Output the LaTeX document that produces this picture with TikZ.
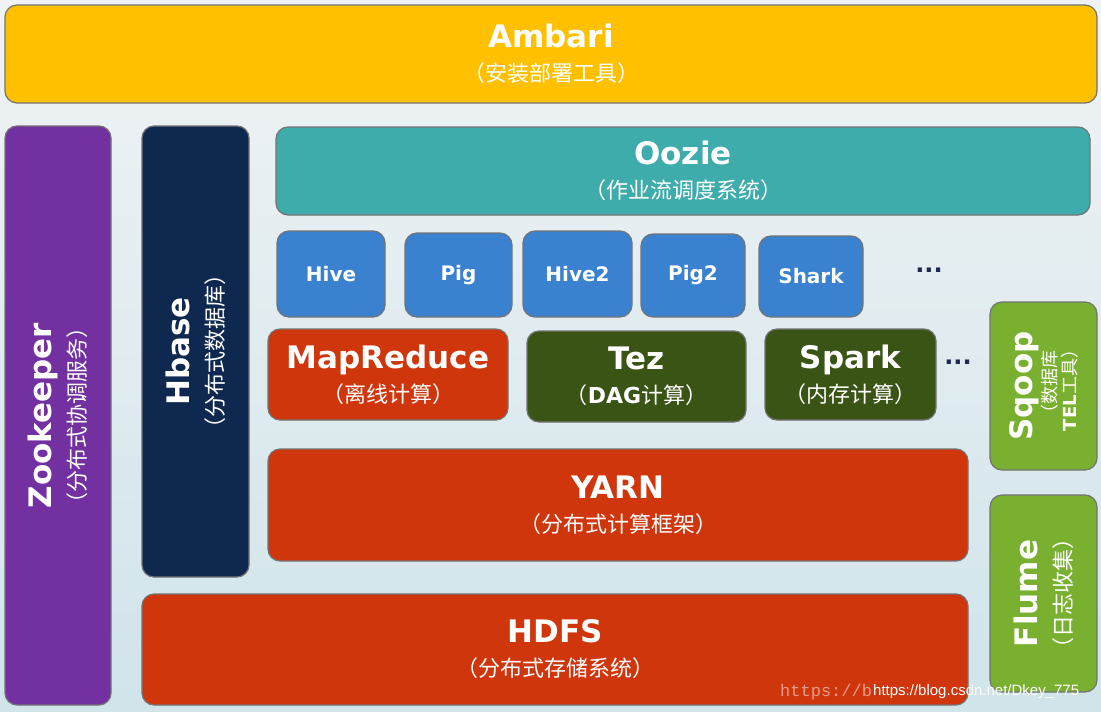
\documentclass[tikz,border=0pt]{standalone}
\usepackage{fontspec}
\usepackage{xcolor}
\setmainfont{DejaVu Sans}
\newfontfamily\cjk{Noto Sans CJK SC}
\newfontfamily\urlfont{Liberation Sans}
\newfontfamily\urlmono{Liberation Mono}

\definecolor{bgtop}{RGB}{240,243,245}
\definecolor{bgbot}{RGB}{208,228,234}
\definecolor{ambaricol}{RGB}{255,192,0}
\definecolor{zoocol}{RGB}{114,48,160}
\definecolor{hbasecol}{RGB}{14,40,80}
\definecolor{ooziecol}{RGB}{62,172,170}
\definecolor{toolcol}{RGB}{58,130,208}
\definecolor{redcol}{RGB}{208,54,12}
\definecolor{darkgreen}{RGB}{58,84,22}
\definecolor{lightgreen}{RGB}{122,176,48}
\definecolor{dotcol}{RGB}{30,40,80}

\newcommand{\boxtitle}[1]{{\fontsize{31}{34}\selectfont\bfseries #1}}
\newcommand{\boxsub}[1]{{\fontsize{22}{34}\selectfont\cjk #1}}
\newcommand{\smallsub}[1]{{\fontsize{18}{20}\selectfont\cjk #1}}

\begin{document}
\begin{tikzpicture}[x=1pt,y=-1pt,
    box/.style={draw=black!55,line width=1.2pt,rounded corners=12pt,text=white,align=center,inner sep=0pt,font=\fontsize{22}{34}\selectfont},
    vbox/.style={box,rotate=90},
    tool/.style={box,fill=toolcol,font=\fontsize{20}{24}\selectfont\bfseries},
    more/.style={text=dotcol,inner sep=0pt,font=\fontsize{24}{24}\selectfont\bfseries}]
    \useasboundingbox (0,0) rectangle (1101,712);
    \shade[top color=bgtop,bottom color=bgbot] (0,0) rectangle (1101,712);
    \node[box,fill=ambaricol,minimum width=1092pt,minimum height=98pt] (ambari) at (551,54) {\boxtitle{Ambari}\\\boxsub{（安装部署工具）}};
    \node[vbox,fill=zoocol,minimum width=579pt,minimum height=106pt] (zookeeper) at (58,415.5) {\boxtitle{Zookeeper}\\\boxsub{（分布式协调服务）}};
    \node[vbox,fill=hbasecol,minimum width=451pt,minimum height=107pt] (hbase) at (195.5,351.5) {\boxtitle{Hbase}\\\boxsub{（分布式数据库）}};
    \node[box,fill=ooziecol,minimum width=814pt,minimum height=88pt] (oozie) at (683,171) {\boxtitle{Oozie}\\\boxsub{（作业流调度系统）}};
    \node[tool,minimum width=108pt,minimum height=86pt] (hive) at (331,274) {Hive};
    \node[tool,minimum width=107pt,minimum height=84pt] (pig) at (458.5,275) {Pig};
    \node[tool,minimum width=109pt,minimum height=86pt] (hive2) at (577.5,274) {Hive2};
    \node[tool,minimum width=104pt,minimum height=83pt] (pig2) at (693,275.5) {Pig2};
    \node[tool,minimum width=104pt,minimum height=81pt] (shark) at (811,276.5) {Shark};
    \node[more] (moretools) at (929,270) {...};
    \node[box,fill=redcol,minimum width=240pt,minimum height=91pt] (mapreduce) at (388,374.5) {\boxtitle{MapReduce}\\\boxsub{（离线计算）}};
    \node[box,fill=darkgreen,minimum width=219pt,minimum height=91pt] (tez) at (636.5,376.5) {\boxtitle{Tez}\\\boxsub{（{\rmfamily\bfseries DAG}计算）}};
    \node[box,fill=darkgreen,minimum width=171pt,minimum height=91pt] (spark) at (850.5,374.5) {\boxtitle{Spark}\\\boxsub{（内存计算）}};
    \node[more] (moreengines) at (958,362) {...};
    \node[box,fill=redcol,minimum width=700pt,minimum height=112pt] (yarn) at (618,505) {\boxtitle{YARN}\\\boxsub{（分布式计算框架）}};
    \node[box,fill=redcol,minimum width=826pt,minimum height=111pt] (hdfs) at (555,649.5) {\boxtitle{HDFS}\\\boxsub{（分布式存储系统）}};
    \node[vbox,fill=lightgreen,minimum width=168pt,minimum height=107pt,font=\fontsize{18}{20}\selectfont] (sqoop) at (1043.5,386) {\boxtitle{Sqoop}\\[1pt]\smallsub{（数据库}\\\smallsub{{\rmfamily\bfseries TEL}工具）}};
    \node[vbox,fill=lightgreen,minimum width=197pt,minimum height=107pt] (flume) at (1043.5,593.5) {\boxtitle{Flume}\\\boxsub{（日志收集）}};
    \node[anchor=west,inner sep=0pt,text=white,opacity=0.5,font=\urlmono\fontsize{17}{17}\selectfont] (wmfaded) at (780,692) {https://b};
    \node[anchor=west,inner sep=0pt,text=white,font=\urlfont\fontsize{15}{15}\selectfont] (watermark) at (873,692) {https://blog.csdn.net/Dkey\_775};
\end{tikzpicture}
\end{document}
